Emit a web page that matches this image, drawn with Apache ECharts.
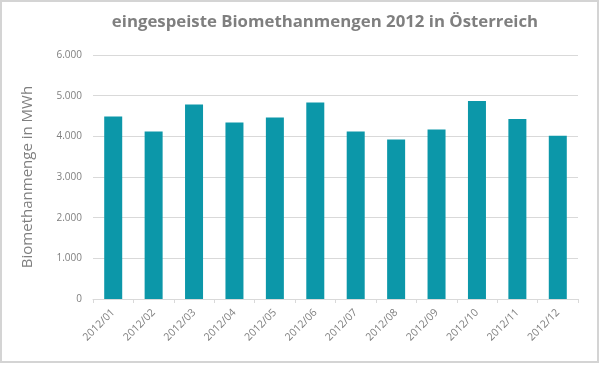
<!DOCTYPE html>
<html><head><meta charset="utf-8">
<script src="https://cdn.jsdelivr.net/npm/echarts@6/dist/echarts.min.js"></script>
<style>html,body{margin:0;padding:0;background:#fff}#c{width:600px;height:365px}</style>
</head><body><div id="c"></div>
<script>
const titleText = 'eingespeiste Biomethanmengen 2012 in Österreich';
const yAxisTitle = 'Biomethanmenge in MWh';
const categories = ['2012/01','2012/02','2012/03','2012/04','2012/05','2012/06','2012/07','2012/08','2012/09','2012/10','2012/11','2012/12'];
const values = [4490, 4120, 4780, 4340, 4465, 4830, 4120, 3925, 4165, 4870, 4425, 4015];
const yTicks = [0, 1000, 2000, 3000, 4000, 5000, 6000];

const chart = echarts.init(document.getElementById('c'));
chart.setOption({
  animation: false,
  title: { text: titleText, left: 320, top: 9, textAlign: 'center',
    textStyle: { fontFamily: 'Open Sans', fontWeight: 'bold', fontSize: 16.8, color: '#7f7f7f' } },
  graphic: [{ type: 'rect', shape: { x: 1, y: 1, width: 597, height: 361 },
    style: { fill: 'none', stroke: '#d4d4d4', lineWidth: 2 } }],
  grid: { left: 93, right: 22, top: 55, bottom: 66 },
  xAxis: { type: 'category', data: categories,
    axisLine: { lineStyle: { color: '#d9d9d9' } },
    axisTick: { show: true, lineStyle: { color: '#d9d9d9' }, length: 4 },
    axisLabel: { rotate: 45, color: '#7f7f7f', fontFamily: 'Open Sans', fontSize: 10.5, margin: 12 } },
  yAxis: { type: 'value', min: yTicks[0], max: yTicks[yTicks.length-1], interval: 1000,
    name: yAxisTitle, nameLocation: 'middle', nameGap: 58, nameRotate: 90,
    nameTextStyle: { color: '#7f7f7f', fontFamily: 'Open Sans', fontSize: 15 },
    axisLine: { show: false }, axisTick: { show: false },
    axisLabel: { color: '#7f7f7f', fontFamily: 'Open Sans', fontSize: 10, margin: 11,
      formatter: v => v === 0 ? '0' : String(v).replace(/\B(?=(\d{3})+(?!\d))/g, '.') },
    splitLine: { lineStyle: { color: '#d9d9d9' } } },
  series: [{ type: 'bar', data: values, barWidth: 18, itemStyle: { color: '#0c97a9' } }]
});
</script></body></html>
